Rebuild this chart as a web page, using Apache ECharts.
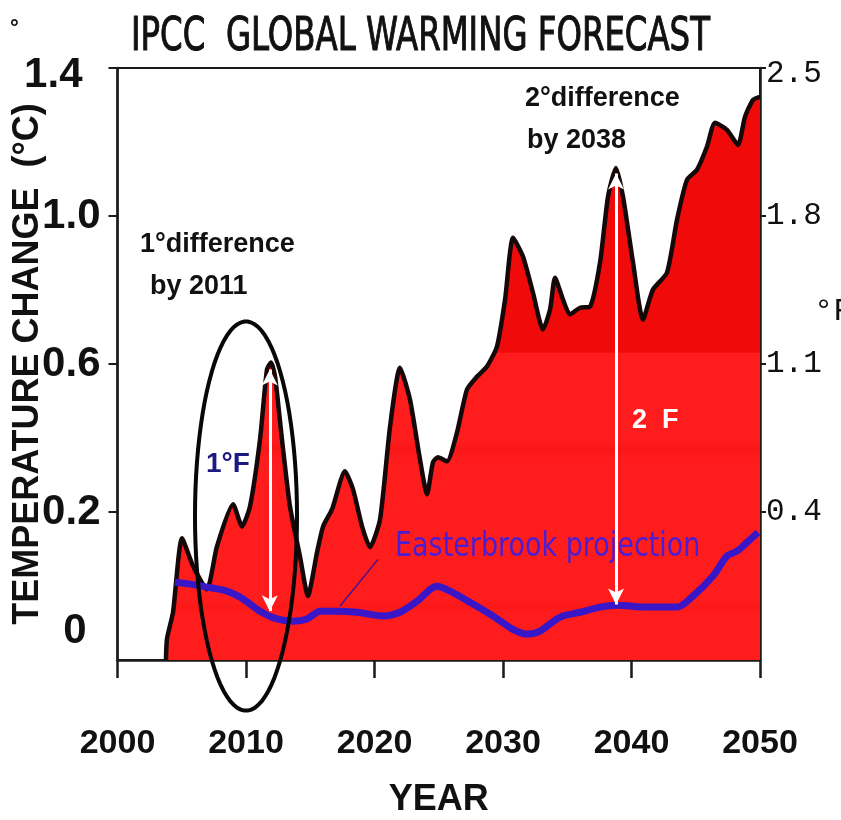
<!DOCTYPE html>
<html><head><meta charset="utf-8">
<script src="https://cdn.jsdelivr.net/npm/echarts@6/dist/echarts.min.js"></script>
<style>html,body{margin:0;padding:0;background:#fff}#c{width:841px;height:820px}</style>
</head><body><div id="c"></div>
<script>
// ---- data ----
const yearTicks = [2000, 2010, 2020, 2030, 2040, 2050];
const celsiusTickValues = [-0.2, 0.2, 0.6, 1.0, 1.4];
const celsiusTickLabels = ['0', '0.2', '0.6', '1.0', '1.4'];
const fahrenheitTickValues = [-0.3, 0.4, 1.1, 1.8, 2.5];
const fahrenheitTickLabels = ['', '0.4', '1.1', '1.8', '2.5'];

const ipccYears = [2003.77, 2003.85, 2004.32, 2005.02, 2005.88, 2006.96, 2007.74, 2008.99, 2009.69, 2010.31,
  2011.09, 2011.63, 2011.95, 2012.26, 2012.80, 2013.42, 2014.20, 2014.82, 2015.53, 2016.0,
  2016.69, 2017.70, 2018.33, 2019.03, 2019.65, 2020.43, 2021.21, 2021.98, 2022.76, 2023.54,
  2024.09, 2024.55, 2024.94, 2025.64, 2026.42, 2027.20, 2027.98, 2028.75, 2029.53, 2030.16,
  2030.78, 2031.56, 2032.33, 2033.11, 2033.66, 2034.05, 2034.67, 2035.21, 2035.99, 2036.77,
  2037.55, 2038.17, 2038.79, 2039.34, 2040.12, 2040.89, 2041.67, 2042.76, 2043.54, 2044.32,
  2045.10, 2045.87, 2046.50, 2047.43, 2048.29, 2048.83, 2049.46, 2050.0];
const ipccValues = [-0.2, -0.143, -0.071, 0.129, 0.054, -0.009, 0.107, 0.221, 0.161, 0.215,
  0.396, 0.585, 0.604, 0.566, 0.396, 0.215, 0.080, -0.027, 0.091, 0.161,
  0.207, 0.310, 0.261, 0.161, 0.105, 0.180, 0.431, 0.590, 0.504, 0.342,
  0.248, 0.334, 0.348, 0.337, 0.415, 0.531, 0.566, 0.593, 0.647, 0.774,
  0.941, 0.890, 0.793, 0.693, 0.747, 0.833, 0.774, 0.734, 0.752, 0.755,
  0.874, 1.052, 1.130, 1.052, 0.874, 0.720, 0.801, 0.847, 0.990, 1.098,
  1.125, 1.187, 1.252, 1.233, 1.192, 1.268, 1.314, 1.322];

const easterbrookYears = [2004.47, 2005.64, 2006.96, 2008.52, 2009.77, 2011.09, 2012.41, 2013.66, 2014.75, 2015.76,
  2017.08, 2018.64, 2020.66, 2021.98, 2023.31, 2024.86, 2025.88, 2027.43, 2029.22, 2030.78,
  2031.87, 2032.88, 2034.44, 2036.0, 2037.55, 2038.87, 2041.21, 2043.54, 2044.79, 2046.34,
  2047.43, 2048.21, 2048.99, 2049.84];
const easterbrookValues = [0.010, 0.005, -0.003, -0.014, -0.035, -0.068, -0.089, -0.095, -0.089, -0.068,
  -0.068, -0.071, -0.081, -0.071, -0.041, -0.001, -0.014, -0.044, -0.081, -0.117,
  -0.130, -0.122, -0.084, -0.071, -0.057, -0.052, -0.057, -0.057, -0.027, 0.027,
  0.081, 0.094, 0.118, 0.145];

// difference arrows: year, top value, bottom value
const arrowYears = [2011.85, 2038.8];
const arrowTops = [0.585, 1.115];
const arrowBottoms = [-0.068, -0.05];
// highlight ellipse (data units): centre year/value, half-width (years), half-height (°C)
const ellipseCenter = [2010.0, 0.189];
const ellipseRadius = [3.97, 0.526];
// leader from label to projection line
const leaderFrom = [2020.27, 0.072];
const leaderTo = [2017.32, -0.054];

// ---- chart ----
const zip = (a, b) => a.map((v, i) => [v, b[i]]);
const chart = echarts.init(document.getElementById('c'), null, {renderer: 'canvas'});
const boldFont = "'Liberation Sans', Arial, sans-serif";
const monoFont = "'Liberation Mono', 'DejaVu Sans Mono', monospace";
const comicFont = "'DejaVu Sans Condensed', 'DejaVu Sans', sans-serif";
const idxOf = (arr, v) => arr.findIndex(t => Math.abs(t - v) < 1e-6);

const option = {
  backgroundColor: '#ffffff',
  animation: false,
  grid: {left: 117.5, right: 81, top: 68, bottom: 160, containLabel: false, outerBoundsMode: 'none',
    show: true, borderColor: '#1a1a1a', borderWidth: 2},
  xAxis: {
    type: 'value', min: yearTicks[0], max: yearTicks[yearTicks.length - 1], interval: 10,
    name: 'YEAR', nameLocation: 'middle', nameGap: 122, nameMoveOverlap: false,
    nameTextStyle: {fontFamily: boldFont, fontWeight: 'bold', fontSize: 36, color: '#111'},
    axisLine: {onZero: false, lineStyle: {color: '#1a1a1a', width: 2.5}},
    axisTick: {inside: false, length: 18, lineStyle: {color: '#1a1a1a', width: 2.5}},
    axisLabel: {margin: 67, fontFamily: boldFont, fontWeight: 'bold', fontSize: 34, color: '#111',
      formatter: v => String(v)},
    splitLine: {show: false}
  },
  yAxis: [{
    type: 'value', position: 'left', min: celsiusTickValues[0], max: celsiusTickValues[celsiusTickValues.length - 1], interval: 0.4,
    name: 'TEMPERATURE CHANGE  (°C)', nameLocation: 'middle', nameGap: 71, nameRotate: 90, nameMoveOverlap: false,
    nameTextStyle: {fontFamily: boldFont, fontWeight: 'bold', fontSize: 36, color: '#111'},
    axisLine: {show: true, onZero: false, lineStyle: {color: '#1a1a1a', width: 2.5}},
    axisTick: {length: 9, customValues: celsiusTickValues.slice(1), lineStyle: {color: '#1a1a1a', width: 2}},
    axisLabel: {margin: 17, fontFamily: boldFont, fontWeight: 'bold', fontSize: 42, color: '#111',
      formatter: v => {
        const i = idxOf(celsiusTickValues, v);
        if (i === 0) return '{z|' + celsiusTickLabels[0] + '}';
        if (i === celsiusTickValues.length - 1) return '{t|' + celsiusTickLabels[i] + '}';
        return i >= 0 ? celsiusTickLabels[i] : '';
      },
      rich: {
        z: {fontFamily: boldFont, fontWeight: 'bold', fontSize: 42, color: '#111', padding: [0, 14, 58, 0]},
        t: {fontFamily: boldFont, fontWeight: 'bold', fontSize: 42, color: '#111', padding: [14, 18, 0, 0]}
      }
    },
    splitLine: {show: false}
  }, {
    type: 'value', position: 'right', min: fahrenheitTickValues[0], max: fahrenheitTickValues[fahrenheitTickValues.length - 1], interval: 0.7,
    axisLine: {show: true, onZero: false, lineStyle: {color: '#1a1a1a', width: 2.5}},
    axisTick: {length: 6, customValues: fahrenheitTickValues.slice(1), lineStyle: {color: '#1a1a1a', width: 2}},
    axisLabel: {margin: 6, fontFamily: monoFont, fontSize: 31, color: '#111',
      formatter: v => {
        const i = idxOf(fahrenheitTickValues, v);
        if (i === fahrenheitTickValues.length - 1) return '{t|' + fahrenheitTickLabels[i] + '}';
        return i >= 0 ? fahrenheitTickLabels[i] : '';
      },
      rich: {t: {fontFamily: monoFont, fontSize: 31, color: '#111', padding: [12, 0, 0, 0]}}
    },
    splitLine: {show: false}
  }],
  series: [{
    name: 'IPCC forecast', type: 'line', data: zip(ipccYears, ipccValues), smooth: 0.2, symbol: 'none',
    lineStyle: {color: '#150808', width: 4.5},
    areaStyle: {origin: 'start', opacity: 1, color: {type: 'linear', x: 0, y: 68, x2: 0, y2: 660, global: true,
      colorStops: [{offset: 0, color: '#f00a0a'}, {offset: 0.48, color: '#f00a0a'}, {offset: 0.482, color: '#ff1c1c'},
        {offset: 0.63, color: '#ff1c1c'}, {offset: 0.645, color: '#f91616'}, {offset: 0.66, color: '#ff1c1c'},
        {offset: 0.9, color: '#ff1c1c'}, {offset: 0.91, color: '#fa1818'}, {offset: 0.92, color: '#ff1c1c'}, {offset: 1, color: '#ff1c1c'}]}},
    z: 2
  }, {
    name: 'Easterbrook projection', type: 'line', data: zip(easterbrookYears, easterbrookValues), smooth: 0.3, symbol: 'none',
    lineStyle: {color: '#3a17c6', width: 7}, z: 3,
    markLine: {
      silent: true, symbol: ['none', 'none'], label: {show: false},
      lineStyle: {color: '#4a1090', width: 1.5, type: 'solid'},
      data: [[{coord: leaderFrom}, {coord: leaderTo}]]
    }
  }, {
    name: 'difference', type: 'line', data: [], symbol: 'none', z: 4,
    markLine: {
      silent: true, symbol: ['arrow', 'arrow'], symbolSize: [12, 16], label: {show: false},
      lineStyle: {color: '#ffffff', width: 3, type: 'solid', opacity: 1},
      data: arrowYears.map((y, i) => [{coord: [y, arrowTops[i]]}, {coord: [y, arrowBottoms[i]]}])
    }
  }, {
    name: 'highlight', type: 'custom', clip: false, z: 5, silent: true,
    data: [[ellipseCenter[0], ellipseCenter[1], ellipseRadius[0], ellipseRadius[1]]],
    renderItem: (params, api) => {
      const c = api.coord([api.value(0), api.value(1)]);
      const s = api.size([api.value(2), api.value(3)]);
      const pts = [];
      for (let k = 0; k < 90; k++) {
        const a = k / 90 * Math.PI * 2;
        pts.push([c[0] + s[0] * Math.cos(a), c[1] + s[1] * Math.sin(a)]);
      }
      return {type: 'polygon', shape: {points: pts}, style: {fill: 'none', stroke: '#080808', lineWidth: 4}};
    }
  }],
  graphic: [
    {type: 'text', left: 'center', top: 14, scaleY: 1.3, style: {text: 'IPCC  GLOBAL WARMING FORECAST', font: "normal 36px 'DejaVu Sans Condensed', sans-serif", fill: '#111', stroke: '#111', lineWidth: 0.8}},
    {type: 'text', x: 10, y: 18, style: {text: '°', font: "bold 22px 'Liberation Sans', sans-serif", fill: '#111'}},
    {type: 'text', x: 814, y: 296, style: {text: '°F', font: "normal 32px " + monoFont, fill: '#111'}},
    {type: 'text', x: 140, y: 231, style: {text: '1°difference', font: "bold 27px " + boldFont, fill: '#111'}},
    {type: 'text', x: 150, y: 273, style: {text: 'by 2011', font: "bold 27px " + boldFont, fill: '#111'}},
    {type: 'text', x: 525, y: 85, style: {text: '2°difference', font: "bold 27px " + boldFont, fill: '#111'}},
    {type: 'text', x: 527, y: 127, style: {text: 'by 2038', font: "bold 27px " + boldFont, fill: '#111'}},
    {type: 'text', x: 206, y: 450, z: 10, style: {text: '1°F', font: "bold 28px " + boldFont, fill: '#1c1a80'}},
    {type: 'text', x: 632, y: 407, z: 10, style: {text: '2  F', font: "bold 27px " + boldFont, fill: '#ffffff'}},
    {type: 'text', x: 395, y: 530, z: 10, scaleY: 1.15, style: {text: 'Easterbrook projection', font: "normal 30px " + comicFont, fill: '#4a1ed2'}}
  ]
};
chart.setOption(option);
</script></body></html>
